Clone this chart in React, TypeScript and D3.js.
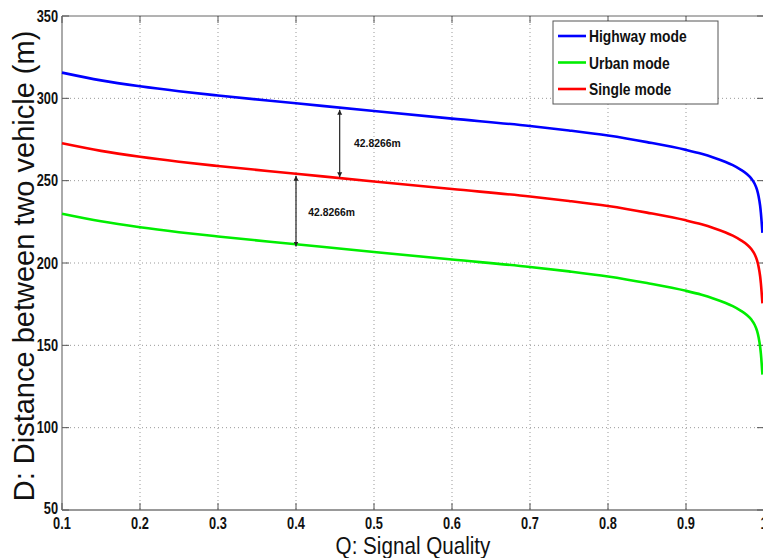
import React from "react";
import * as d3 from "d3";

const qValues = [0.1, 0.15, 0.2, 0.25, 0.3, 0.4, 0.5, 0.6, 0.7, 0.75, 0.8, 0.85, 0.9, 0.92, 0.935, 0.95, 0.96, 0.97, 0.978, 0.984, 0.988, 0.991, 0.993, 0.995, 0.996, 0.997, 0.998];
const highway = [315.6, 310.9, 307.3, 304.3, 301.7, 297.0, 292.3, 287.7, 283.2, 280.5, 277.4, 273.4, 268.7, 266.3, 264.1, 261.5, 259.4, 256.7, 254.0, 251.1, 248.1, 244.5, 240.7, 234.9, 230.5, 224.7, 218.3];
const single = [272.7, 268.1, 264.5, 261.5, 258.9, 254.2, 249.5, 244.9, 240.4, 237.7, 234.6, 230.6, 225.9, 223.5, 221.3, 218.7, 216.6, 213.9, 211.2, 208.3, 205.3, 201.7, 197.9, 192.1, 187.7, 181.9, 175.5];
const urban = [229.9, 225.3, 221.7, 218.7, 216.1, 211.4, 206.7, 202.1, 197.6, 194.9, 191.8, 187.8, 183.1, 180.7, 178.5, 175.9, 173.8, 171.1, 168.4, 165.5, 162.5, 158.9, 155.1, 149.3, 144.9, 139.1, 132.2];

const seriesNames = ["Highway mode", "Urban mode", "Single mode"];
const seriesColors = ["#0000ff", "#00ee00", "#ff0000"];
const seriesData = [highway, urban, single];

const xTicks = [0.1, 0.2, 0.3, 0.4, 0.5, 0.6, 0.7, 0.8, 0.9, 1];
const yTicks = [50, 100, 150, 200, 250, 300, 350];

const annotationQ = [0.456, 0.4];
const annotationTop = [293.0, 253.0];
const annotationBottom = [252.1, 210.0];
const annotationText = ["42.8266m", "42.8266m"];
const annotationLabelQ = [0.4744, 0.4158];
const annotationLabelV = [270.3, 228.6];

const W = 763;
const H = 558;
const margin = { left: 62, right: 764, top: 16, bottom: 510 };

export default function App() {
  const x = d3.scaleLinear().domain([0.1, 1]).range([margin.left, margin.right]);
  const y = d3.scaleLinear().domain([50, 350]).range([margin.bottom, margin.top]);
  const line = d3
    .line<number>()
    .x((_, i) => x(qValues[i]))
    .y((d) => y(d))
    .curve(d3.curveMonotoneX);

  const font = "'Liberation Sans', Arial, sans-serif";

  return (
    <svg
      width={W}
      height={H}
      style={{ position: "absolute", left: 0, top: 0, display: "block", background: "#fff" }}
    >
      <defs>
        <marker id="ah" viewBox="0 0 10 10" refX="10" refY="5" markerWidth="5" markerHeight="6" orient="auto-start-reverse" markerUnits="userSpaceOnUse">
          <path d="M0,0 L10,5 L0,10 z" fill="#222" />
        </marker>
      </defs>
      <rect x={0} y={0} width={W} height={H} fill="#fff" />
      {xTicks
        .filter((t) => t > 0.1 && t < 1)
        .map((t) => (
          <line key={"gx" + t} x1={x(t)} x2={x(t)} y1={margin.top} y2={margin.bottom} stroke="#999" strokeWidth={1} strokeDasharray="1,3" />
        ))}
      {yTicks
        .filter((t) => t > 50 && t < 350)
        .map((t) => (
          <line key={"gy" + t} x1={margin.left} x2={margin.right} y1={y(t)} y2={y(t)} stroke="#999" strokeWidth={1} strokeDasharray="1,3" />
        ))}
      <line x1={margin.left} x2={margin.right} y1={margin.top} y2={margin.top} stroke="#666" strokeWidth={1} />
      <line x1={margin.right} x2={margin.right} y1={margin.top} y2={margin.bottom} stroke="#666" strokeWidth={1} />
      <line x1={margin.left} x2={margin.right} y1={margin.bottom} y2={margin.bottom} stroke="#777" strokeWidth={1.5} />
      <line x1={margin.left} x2={margin.left} y1={margin.top} y2={margin.bottom} stroke="#aaa" strokeWidth={2} />
      {xTicks.map((t) => (
        <g key={"tx" + t}>
          <line x1={x(t)} x2={x(t)} y1={margin.bottom} y2={margin.bottom - 7} stroke="#555" />
          <line x1={x(t)} x2={x(t)} y1={margin.top} y2={margin.top + 7} stroke="#555" />
        </g>
      ))}
      {yTicks.map((t) => (
        <g key={"ty" + t}>
          <line x1={margin.left} x2={margin.left + 7} y1={y(t)} y2={y(t)} stroke="#555" />
          <line x1={margin.right} x2={margin.right - 7} y1={y(t)} y2={y(t)} stroke="#555" />
        </g>
      ))}
      {seriesData.map((d, i) => (
        <path key={seriesNames[i]} d={line(d) || ""} fill="none" stroke={seriesColors[i]} strokeWidth={2.6} />
      ))}
      {annotationQ.map((q, i) => (
        <g key={"an" + i}>
          <line
            x1={x(q)}
            x2={x(q)}
            y1={y(annotationTop[i])}
            y2={y(annotationBottom[i])}
            stroke="#222"
            strokeWidth={1.2}
            markerStart="url(#ah)"
            markerEnd="url(#ah)"
          />
          <text
            transform={`translate(${x(annotationLabelQ[i])},${y(annotationLabelV[i])}) scale(0.9,1)`}
            fontFamily={font}
            fontWeight="bold"
            fontSize={11.5}
            fill="#111"
          >
            {annotationText[i]}
          </text>
        </g>
      ))}
      {xTicks.map((t) => (
        <text
          key={"lx" + t}
          transform={`translate(${x(t)},${margin.bottom + 19}) scale(0.8,1)`}
          textAnchor="middle"
          fontFamily={font}
          fontWeight="bold"
          fontSize={16}
          fill="#111"
        >
          {d3.format("")(t)}
        </text>
      ))}
      {yTicks.map((t) => (
        <text
          key={"ly" + t}
          transform={`translate(${margin.left - 4},${y(t) + (t === 50 ? 4 : 5.5)}) scale(0.8,1)`}
          textAnchor="end"
          fontFamily={font}
          fontWeight="bold"
          fontSize={16}
          fill="#111"
        >
          {t}
        </text>
      ))}
      <text
        transform={`translate(${(margin.left + margin.right) / 2},554) scale(0.86,1)`}
        textAnchor="middle"
        fontFamily={font}
        fontSize={24}
        fill="#111"
      >
        Q: Signal Quality
      </text>
      <text
        transform={`translate(34,266) rotate(-90)`}
        textAnchor="middle"
        fontFamily={font}
        fontSize={29}
        fill="#111"
      >
        D: Distance between two vehicle (m)
      </text>
      <rect x={553} y={21} width={165} height={83} fill="#fff" stroke="#555" strokeWidth={1} />
      {seriesNames.map((n, i) => {
        const ly = 36 + i * 26.5;
        return (
          <g key={"lg" + n}>
            <line x1={558} x2={586} y1={ly} y2={ly} stroke={seriesColors[i]} strokeWidth={2.6} />
            <text
              transform={`translate(589,${ly + 6}) scale(0.84,1)`}
              fontFamily={font}
              fontWeight="bold"
              fontSize={16.5}
              fill="#111"
            >
              {n}
            </text>
          </g>
        );
      })}
    </svg>
  );
}
